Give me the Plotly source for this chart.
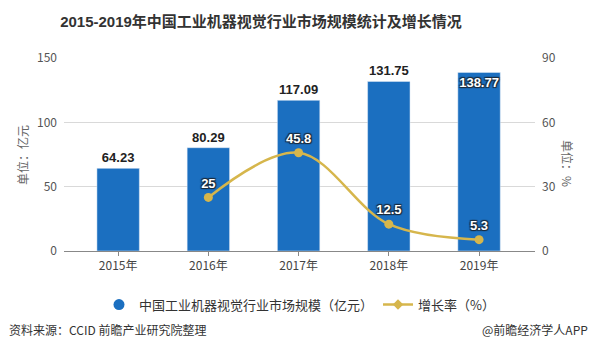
import plotly.graph_objects as go

years = ["2015年", "2016年", "2017年", "2018年", "2019年"]
market_size = [64.23, 80.29, 117.09, 131.75, 138.77]
growth_years = ["2016年", "2017年", "2018年", "2019年"]
growth_rate = [25, 45.8, 12.5, 5.3]

left_ticks = [0, 50, 100, 150]
right_ticks = [0, 30, 60, 90]

BAR = "#1b6fc0"
GOLD = "#d6b64c"
FONT = "Noto Sans CJK SC"
DARK_HALO = "1px 1px 1px #1a2a3a, -1px -1px 1px #1a2a3a, 1px -1px 1px #1a2a3a, -1px 1px 1px #1a2a3a"

fig = go.Figure()

fig.add_trace(go.Bar(
    x=years, y=market_size, marker_color=BAR, width=0.47,
    text=[f"<b>{v:.2f}</b>" for v in market_size],
    textposition=["outside"] * 4 + ["inside"],
    insidetextanchor="end", textangle=0,
    outsidetextfont=dict(size=13, color="#222", family="Arial, " + FONT),
    insidetextfont=dict(size=13, color="white", family="Arial, " + FONT, shadow=DARK_HALO),
    constraintext="none",
    cliponaxis=False, showlegend=False, hoverinfo="skip",
))

fig.add_trace(go.Scatter(
    x=growth_years, y=growth_rate, yaxis="y2", mode="lines+markers+text",
    line=dict(color=GOLD, width=2.5, shape="spline", smoothing=1.0),
    marker=dict(color=GOLD, size=9),
    text=[f"<b>{v}</b>" for v in growth_rate], textposition="top center",
    textfont=dict(size=13, color="white", family="Arial, " + FONT, shadow=DARK_HALO),
    showlegend=False, cliponaxis=False,
))

# legend proxies
fig.add_trace(go.Scatter(
    x=[None], y=[None], mode="markers", name="中国工业机器视觉行业市场规模（亿元）",
    marker=dict(color=BAR, size=11, symbol="circle"),
))
fig.add_trace(go.Scatter(
    x=[None], y=[None], mode="lines+markers", name="增长率（%）", yaxis="y2",
    line=dict(color=GOLD, width=2.5), marker=dict(color=GOLD, size=8, symbol="diamond"),
))

fig.update_layout(
    width=594, height=354,
    margin=dict(l=64, r=59, t=58, b=103),
    paper_bgcolor="white", plot_bgcolor="white",
    font=dict(family=FONT, size=12, color="#555"),
    title=dict(text="<b>2015-2019年中国工业机器视觉行业市场规模统计及增长情况</b>",
               x=261 / 594, xanchor="center", y=1 - 22 / 354, yanchor="middle",
               font=dict(size=15, color="#333", family="Arial, " + FONT)),
    xaxis=dict(range=[-0.6, 4.62], showgrid=False, showline=True, linecolor="#888",
               ticks="outside", ticklen=4, tickcolor="#888",
               tickfont=dict(size=12, color="#444"), fixedrange=True),
    yaxis=dict(range=[0, 150], tickvals=left_ticks, showgrid=True, gridcolor="#d9d9d9",
               zeroline=False, tickfont=dict(size=12, color="#555"), ticklabelstandoff=6),
    yaxis2=dict(range=[0, 90], tickvals=right_ticks, overlaying="y", side="right",
                showgrid=False, zeroline=False, tickfont=dict(size=12, color="#555"),
                ticklabelstandoff=6),
    bargap=0.5,
    legend=dict(orientation="h", x=0.5, xanchor="center", y=-0.2, yanchor="top",
                font=dict(size=13, color="#333"), itemwidth=30,
                traceorder="normal"),
    annotations=[
        dict(text="单位：亿元", x=22, y=155, showarrow=False, xanchor="center", yanchor="middle",
             textangle=-90, font=dict(size=12, color="#666")),
        dict(text="单位：%", x=568, y=163, showarrow=False, xanchor="center", yanchor="middle",
             textangle=90, font=dict(size=12, color="#666")),
        dict(text="资料来源：CCID 前瞻产业研究院整理", x=7, y=329, showarrow=False,
             xanchor="left", yanchor="middle", font=dict(size=12, color="#333")),
        dict(text="@前瞻经济学人APP", x=590, y=329, showarrow=False,
             xanchor="right", yanchor="middle", font=dict(size=12, color="#333")),
    ],
)

# convert pixel-based annotation coords to paper coords
pl, pr, pt, pb = 64, 594 - 59, 58, 354 - 103
new_ann = []
for a in fig.layout.annotations:
    a.x = (a.x - pl) / (pr - pl)
    a.y = (pb - a.y) / (pb - pt)
    a.xref = "paper"
    a.yref = "paper"
    new_ann.append(a)
fig.layout.annotations = new_ann

fig.write_html("out.html")
